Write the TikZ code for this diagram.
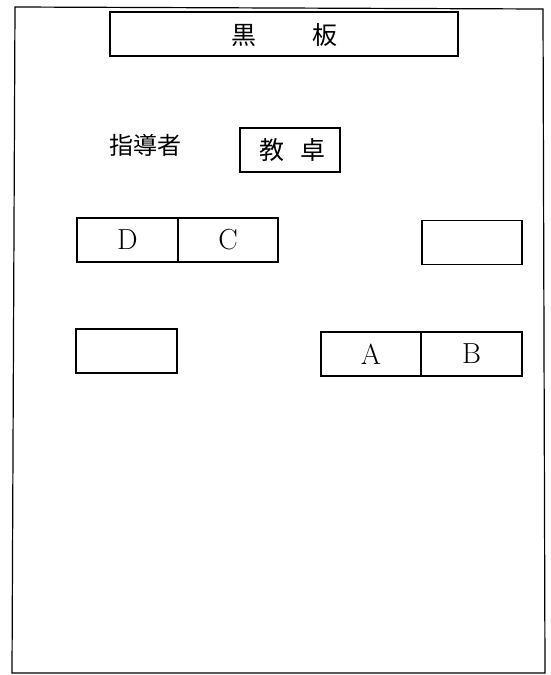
\documentclass[tikz,border=0pt]{standalone}
\usepackage{fontspec}
\newfontfamily\cjk{Noto Sans CJK JP}
\begin{document}
\begin{tikzpicture}[x=1pt,y=-1pt,
  box/.style={draw,line width=1.4pt,rectangle,inner sep=0pt},
  cjktext/.style={font=\cjk\fontsize{25}{25}\selectfont,inner sep=0pt},
  lettertext/.style={font=\fontsize{29}{29}\selectfont,inner sep=0pt}]
\useasboundingbox (0,0) rectangle (550,675);
% outer frame
\draw[line width=1.2pt] (15,7) -- (543,9) -- (545,673) -- (12,673) -- cycle;
% blackboard
\node[box,minimum width=348pt,minimum height=44pt] (board) at (284,34) {};
\node[cjktext] (kuro) at (244,35) {黒};
\node[cjktext] (ita) at (325,35) {板};
% instructor
\node[cjktext,font=\cjk\fontsize{24}{24}\selectfont] (shido) at (145,145) {指導者};
\node[box,minimum width=100pt,minimum height=44pt] (kyotaku) at (290,150) {};
\node[cjktext] (kyo) at (272,150) {教};
\node[cjktext] (taku) at (313,150) {卓};
% desk D C
\node[box,minimum width=101pt,minimum height=44pt] (dbox) at (127.5,240) {};
\node[box,minimum width=100pt,minimum height=44pt] (cbox) at (228,240) {};
\node[lettertext] at (dbox.center) {D};
\node[lettertext] at (cbox.center) {C};
% empty right desk
\node[box,minimum width=100pt,minimum height=44pt] (rdesk) at (472,242.5) {};
% empty left lower desk
\node[box,minimum width=101pt,minimum height=44pt] (ldesk) at (126.5,351) {};
% desk A B
\node[box,minimum width=100pt,minimum height=44pt] (abox) at (371,354) {};
\node[box,minimum width=101pt,minimum height=44pt] (bbox) at (471.5,354) {};
\node[lettertext] at (abox.center) {A};
\node[lettertext] at (bbox.center) {B};
\end{tikzpicture}
\end{document}
